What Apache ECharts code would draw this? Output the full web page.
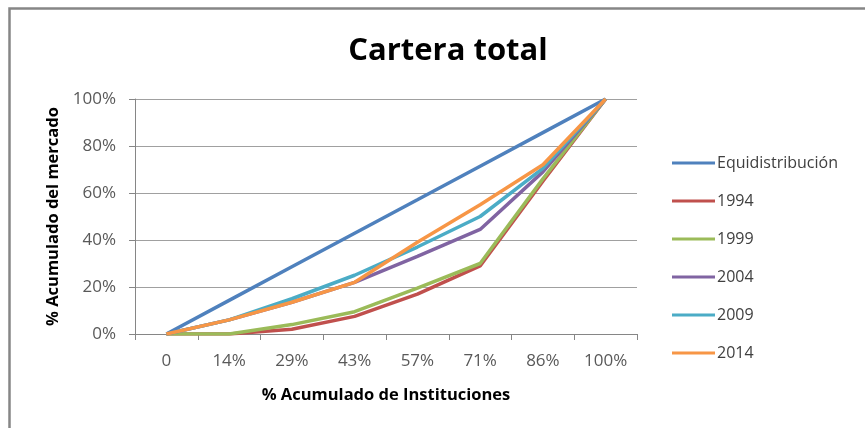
<!DOCTYPE html>
<html>
<head>
<meta charset="utf-8">
<script src="https://cdn.jsdelivr.net/npm/echarts@6/dist/echarts.min.js"></script>
<style>
  html, body { margin: 0; padding: 0; background: #ffffff; }
  #chart { width: 865px; height: 428px; }
</style>
</head>
<body>
<div id="chart"></div>
<script>
// Curvas de Lorenz: participación acumulada del mercado por institución
const categories = ['0', '14%', '29%', '43%', '57%', '71%', '86%', '100%'];
const seriesNames = ['Equidistribución', '1994', '1999', '2004', '2009', '2014'];
const equidistribucion = [0, 14.3, 28.6, 42.9, 57.1, 71.4, 85.7, 100];
const y1994 = [0, 0, 2, 7.5, 17, 29, 65, 100];
const y1999 = [0, 0, 4, 9.5, 19.5, 30, 66, 100];
const y2004 = [0, 6, 13.5, 22, 33, 44.5, 69, 100];
const y2009 = [0, 6, 15, 25, 37, 50, 70.5, 100];
const y2014 = [0, 6, 13.5, 22, 39, 55, 72, 100];
const yTicks = [0, 20, 40, 60, 80, 100];

const colors = ['#4F81BD', '#C0504D', '#9BBB59', '#8064A2', '#4BACC6', '#F79646'];
const values = [equidistribucion, y1994, y1999, y2004, y2009, y2014];
const font = '"Open Sans", sans-serif';

const chart = echarts.init(document.getElementById('chart'), null, { renderer: 'canvas' });

chart.setOption({
  animation: false,
  backgroundColor: '#ffffff',
  color: colors,
  graphic: [{
    type: 'rect',
    shape: { x: 9.5, y: 8.5, width: 900, height: 500 },
    style: { fill: 'none', stroke: '#868686', lineWidth: 2.5 },
    silent: true
  }],
  title: {
    text: 'Cartera total',
    left: 443,
    top: 31,
    textAlign: 'center',
    textStyle: { fontFamily: font, fontSize: 31, fontWeight: 'bold', color: '#000000' }
  },
  legend: {
    orient: 'vertical',
    left: 667,
    top: 149,
    icon: 'rect',
    itemWidth: 43,
    itemHeight: 3,
    itemGap: 20,
    data: seriesNames,
    textStyle: { fontFamily: font, fontSize: 16, color: '#404040', lineHeight: 18, padding: [0, 0, 0, -3] }
  },
  grid: { left: 135, right: 228, top: 99, bottom: 94, containLabel: false },
  xAxis: {
    type: 'category',
    data: categories,
    boundaryGap: true,
    name: '% Acumulado de Instituciones',
    nameLocation: 'middle',
    nameGap: 53,
    nameTextStyle: { fontFamily: font, fontSize: 16.5, fontWeight: 'bold', color: '#000000' },
    axisLine: { lineStyle: { color: '#868686', width: 1 } },
    axisTick: { show: true, length: 6, lineStyle: { color: '#868686' } },
    axisLabel: { fontFamily: font, fontSize: 17, color: '#595959', margin: 19 },
    splitLine: { show: false }
  },
  yAxis: {
    type: 'value',
    min: yTicks[0],
    max: yTicks[yTicks.length - 1],
    interval: 20,
    name: '% Acumulado del mercado',
    nameLocation: 'middle',
    nameGap: 73,
    nameTextStyle: { fontFamily: font, fontSize: 16.5, fontWeight: 'bold', color: '#000000' },
    axisLine: { show: true, lineStyle: { color: '#868686', width: 1 } },
    axisTick: { show: true, length: 6, lineStyle: { color: '#868686' } },
    axisLabel: { fontFamily: font, fontSize: 17, color: '#595959', margin: 19, formatter: '{value}%' },
    splitLine: { lineStyle: { color: '#a0a0a0', width: 1 } }
  },
  series: seriesNames.map((name, i) => ({
    name: name,
    type: 'line',
    data: values[i],
    showSymbol: false,
    symbol: 'none',
    lineStyle: { width: 3.5, color: colors[i] },
    itemStyle: { color: colors[i] }
  }))
});
</script>
</body>
</html>
